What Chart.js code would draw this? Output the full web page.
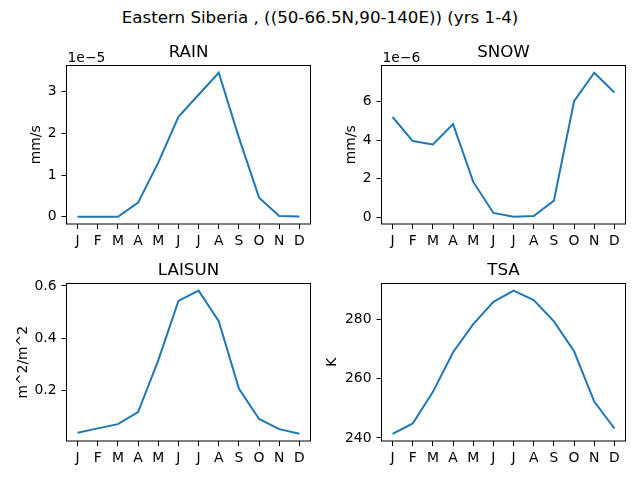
<!DOCTYPE html>
<html lang="en">
<head>
    <meta charset="UTF-8">
    <title>Eastern Siberia</title>
    <script src="https://cdn.jsdelivr.net/npm/chart.js"></script>
    <style>
        body { margin: 0; background: #fff; }
        #fig { position: relative; width: 640px; height: 480px; font-family: "DejaVu Sans", sans-serif; }
        #fig canvas { position: absolute; left: 0; top: 0; }
        #suptitle { position: absolute; left: 0; top: 7px; width: 640px; text-align: center; font-size: 16.7px; line-height: 20px; color: #000; }
    </style>
</head>
<body>
    <div id="fig">
        <div id="suptitle">Eastern Siberia , ((50-66.5N,90-140E)) (yrs 1-4)</div>
        <canvas id="rain" width="640" height="480"></canvas>
        <canvas id="snow" width="640" height="480"></canvas>
        <canvas id="laisun" width="640" height="480"></canvas>
        <canvas id="tsa" width="640" height="480"></canvas>
    </div>

    <script>
        // monthly means
        const months = ['J', 'F', 'M', 'A', 'M', 'J', 'J', 'A', 'S', 'O', 'N', 'D'];
        const rainValues = [0.0, 0.0, 0.0, 0.34e-5, 1.30e-5, 2.40e-5, 2.93e-5, 3.46e-5, 1.90e-5, 0.46e-5, 0.02e-5, 0.01e-5];
        const snowValues = [5.2e-6, 3.95e-6, 3.78e-6, 4.83e-6, 1.83e-6, 0.22e-6, 0.02e-6, 0.06e-6, 0.86e-6, 6.02e-6, 7.5e-6, 6.47e-6];
        const laisunValues = [0.038, 0.055, 0.071, 0.117, 0.315, 0.543, 0.582, 0.465, 0.207, 0.091, 0.052, 0.034];
        const tsaValues = [241.4, 244.9, 255.6, 269.0, 278.5, 286.0, 289.8, 286.6, 279.4, 269.3, 252.3, 243.2];

        const rainTicks = [0, 1e-5, 2e-5, 3e-5];
        const snowTicks = [0, 2e-6, 4e-6, 6e-6];
        const laisunTicks = [0.2, 0.4, 0.6];
        const tsaTicks = [240, 260, 280];

        const panels = [
            { id: 'rain', title: 'RAIN', unit: 'mm/s', values: rainValues, ticks: rainTicks, factor: 1e-5, offsetText: '1e\u22125',
              box: { l: 66.5, t: 65.5, r: 310.5, b: 224 }, labelX: 36.5 },
            { id: 'snow', title: 'SNOW', unit: 'mm/s', values: snowValues, ticks: snowTicks, factor: 1e-6, offsetText: '1e\u22126',
              box: { l: 381.5, t: 65.5, r: 625.5, b: 224 }, labelX: 351.5 },
            { id: 'laisun', title: 'LAISUN', unit: 'm^2/m^2', values: laisunValues, ticks: laisunTicks, factor: 1, offsetText: '',
              box: { l: 66.5, t: 283.5, r: 310.5, b: 441 }, labelX: 23.3 },
            { id: 'tsa', title: 'TSA', unit: 'K', values: tsaValues, ticks: tsaTicks, factor: 1, offsetText: '',
              box: { l: 381.5, t: 283.5, r: 625.5, b: 441 }, labelX: 332.5 }
        ];

        const FONT = '"DejaVu Sans", sans-serif';
        const X_AXIS_H = 30;

        // axes frame, subplot title and the offset text (1e-5 etc.)
        const framePlugin = {
            id: 'frame',
            afterDraw(chart, args, opts) {
                const { ctx, chartArea: a } = chart;
                ctx.save();
                ctx.strokeStyle = '#000';
                ctx.lineWidth = 1;
                ctx.strokeRect(a.left, a.top, a.right - a.left, a.bottom - a.top);
                ctx.fillStyle = '#000';
                ctx.textBaseline = 'alphabetic';
                ctx.font = '16.7px ' + FONT;
                ctx.textAlign = 'center';
                ctx.fillText(opts.title, (a.left + a.right) / 2, a.top - 8.3);
                if (opts.offsetText) {
                    ctx.font = '13.9px ' + FONT;
                    ctx.textAlign = 'left';
                    ctx.fillText(opts.offsetText, a.left + 1, a.top - 4);
                }
                ctx.restore();
            }
        };

        function makeChart(p) {
            const lo = Math.min(...p.values), hi = Math.max(...p.values);
            const m = (hi - lo) * 0.05;
            const yWidth = p.box.l - p.labelX + 13.9 * 1.2 / 2;

            return new Chart(document.getElementById(p.id), {
                type: 'line',
                data: {
                    datasets: [{
                        data: p.values.map((v, i) => ({ x: i, y: v })),
                        borderColor: '#1f77b4',
                        borderWidth: 2,
                        pointRadius: 0,
                        tension: 0,
                        fill: false
                    }]
                },
                options: {
                    responsive: false,
                    animation: false,
                    events: [],
                    layout: {
                        padding: {
                            left: p.box.l - yWidth,
                            right: 640 - p.box.r,
                            top: p.box.t,
                            bottom: 480 - p.box.b - X_AXIS_H
                        }
                    },
                    plugins: {
                        legend: { display: false },
                        tooltip: { enabled: false },
                        frame: { title: p.title, offsetText: p.offsetText }
                    },
                    scales: {
                        x: {
                            type: 'linear',
                            min: -0.55,
                            max: 11.55,
                            afterBuildTicks: s => { s.ticks = months.map((_, i) => ({ value: i })); },
                            afterFit: s => { s.height = X_AXIS_H; },
                            grid: { drawOnChartArea: false, tickLength: 5, color: '#000', tickWidth: 1 },
                            border: { display: false },
                            ticks: {
                                color: '#000',
                                padding: 4,
                                autoSkip: false,
                                maxRotation: 0,
                                font: { family: FONT, size: 13.9 },
                                callback: v => months[v]
                            }
                        },
                        y: {
                            type: 'linear',
                            min: lo - m,
                            max: hi + m,
                            afterBuildTicks: s => { s.ticks = p.ticks.map(v => ({ value: v })); },
                            afterFit: s => { s.width = yWidth; },
                            grid: { drawOnChartArea: false, tickLength: 5, color: '#000', tickWidth: 1 },
                            border: { display: false },
                            title: {
                                display: true,
                                text: p.unit,
                                color: '#000',
                                padding: 0,
                                font: { family: FONT, size: 13.9 }
                            },
                            ticks: {
                                color: '#000',
                                padding: 5,
                                font: { family: FONT, size: 13.9 },
                                callback: v => String(+(v / p.factor).toFixed(6))
                            }
                        }
                    }
                },
                plugins: [framePlugin]
            });
        }

        panels.forEach(makeChart);
    </script>
</body>
</html>
